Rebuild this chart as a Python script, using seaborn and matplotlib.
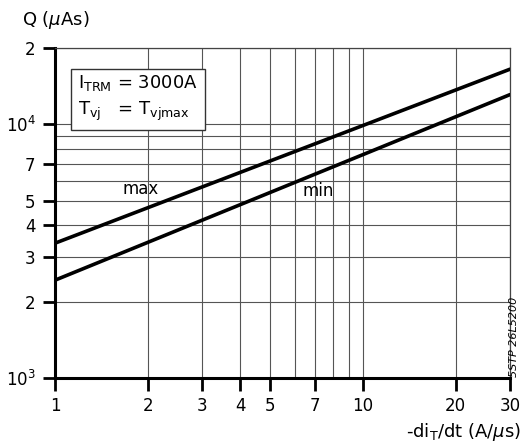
import matplotlib
matplotlib.use("Agg")
import matplotlib.pyplot as plt
import seaborn as sns
import pandas as pd
from matplotlib.ticker import NullLocator, NullFormatter

# ---- data ----
didt = [1, 10, 30]                 # -di_T/dt (A/us)
q_max = [3400, 9900, 16500]        # Q (uAs), max curve
q_min = [2430, 7600, 13100]        # Q (uAs), min curve

x_ticks = [1, 2, 3, 4, 5, 7, 10, 20, 30]
x_ticklabels = ["1", "2", "3", "4", "5", "7", "10", "20", "30"]
y_ticks = [1000, 2000, 3000, 4000, 5000, 7000, 10000, 20000]
y_ticklabels = [r"10$^3$", "2", "3", "4", "5", "7", r"10$^4$", "2"]
x_grid = [2, 3, 4, 5, 6, 7, 8, 9, 10, 20, 30]
y_grid = [2000, 3000, 4000, 5000, 6000, 7000, 8000, 9000, 10000, 20000]

sns.set_theme(style="white")
plt.rcParams["font.family"] = ["DejaVu Sans"]
plt.rcParams["mathtext.fontset"] = "dejavusans"
plt.rcParams["text.color"] = "black"
plt.rcParams["xtick.color"] = "black"
plt.rcParams["ytick.color"] = "black"

df = pd.concat([
    pd.DataFrame({"x": didt, "q": q_max, "curve": "max"}),
    pd.DataFrame({"x": didt, "q": q_min, "curve": "min"}),
])

fig = plt.figure(figsize=(5.22, 4.47), dpi=100)
ax = fig.add_axes([55 / 522, 1 - 378 / 447, (510 - 55) / 522, (378 - 48) / 447])

ax.set_xscale("log")
ax.set_yscale("log")
ax.set_xlim(1, 30)
ax.set_ylim(1000, 20000)

for gx in x_grid:
    ax.axvline(gx, color="#555555", lw=0.8, zorder=1)
for gy in y_grid:
    ax.axhline(gy, color="#555555", lw=0.8, zorder=1)

sns.lineplot(data=df, x="x", y="q", hue="curve", palette=["black", "black"],
             linewidth=2.6, legend=False, ax=ax, zorder=3)

ax.xaxis.set_minor_locator(NullLocator())
ax.xaxis.set_minor_formatter(NullFormatter())
ax.set_xticks(x_ticks)
ax.set_xticklabels(x_ticklabels, fontsize=12)
ax.yaxis.set_minor_locator(NullLocator())
ax.yaxis.set_minor_formatter(NullFormatter())
ax.set_yticks(y_ticks)
ax.set_yticklabels(y_ticklabels, fontsize=12)
ax.tick_params(axis="both", which="major", direction="out", length=9, width=2,
               color="black", labelcolor="black", pad=5, bottom=True, left=True)

ax.set_xlabel("")
ax.set_ylabel("")

for side in ["left", "bottom"]:
    ax.spines[side].set_linewidth(2.2)
    ax.spines[side].set_color("black")
for side in ["top", "right"]:
    ax.spines[side].set_linewidth(0.9)
    ax.spines[side].set_color("#444444")

ax.text(1.89, 5550, "max", fontsize=12, ha="center", va="center", zorder=4, color="black")
ax.text(7.14, 5450, "min", fontsize=12, ha="center", va="center", zorder=4, color="black")

ax.text(0.05, 0.925, "I$_{\\rm TRM}$ = 3000A\nT$_{\\rm vj}$   = T$_{\\rm vjmax}$",
        transform=ax.transAxes, fontsize=13, ha="left", va="top", linespacing=1.45,
        zorder=5, color="black",
        bbox=dict(boxstyle="square,pad=0.4", facecolor="white", edgecolor="#333333",
                  linewidth=1.0))

fig.text(22 / 522, 1 - 20 / 447, "Q ($\\mu$As)", fontsize=13, ha="left", va="center",
         color="black")
fig.text(521 / 522, 1 - 432 / 447, "-di$_{\\rm T}$/dt (A/$\\mu$s)", fontsize=13,
         ha="right", va="center", color="black")
fig.text(514 / 522, 1 - 337 / 447, "5STP 26L5200", fontsize=8, rotation=90,
         ha="center", va="center", style="italic", color="black")

fig.savefig("out.png", dpi=100, facecolor="white")
